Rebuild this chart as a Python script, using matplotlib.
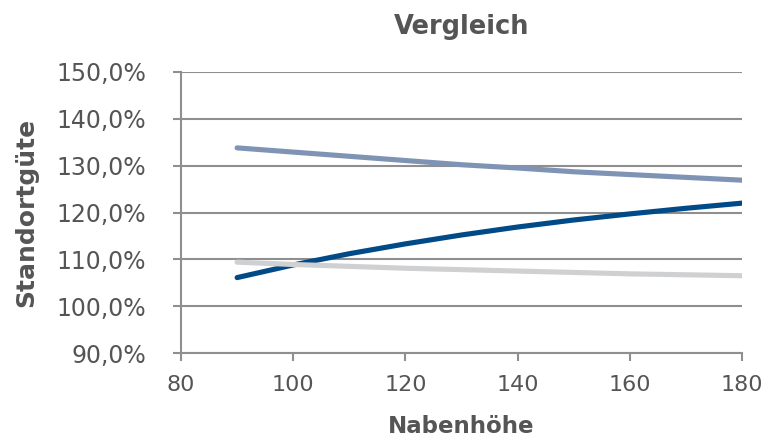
import matplotlib
matplotlib.use("Agg")
import matplotlib.pyplot as plt
from matplotlib.ticker import FuncFormatter, MultipleLocator

# Data
nabenhoehe = [90, 100, 110, 120, 130, 140, 150, 160, 170, 180]
serie_hell = [133.8, 132.9, 132.0, 131.1, 130.2, 129.5, 128.7, 128.1, 127.5, 126.9]
serie_dunkel = [106.1, 108.8, 111.2, 113.3, 115.2, 116.9, 118.4, 119.7, 120.9, 122.0]
serie_grau = [109.4, 108.9, 108.5, 108.1, 107.8, 107.5, 107.2, 106.9, 106.7, 106.5]

text_color = "#555555"
grid_color = "#8f8f8f"

plt.rcParams["font.family"] = ["DejaVu Sans"]

fig = plt.figure(figsize=(7.71, 4.42), dpi=100)
ax = fig.add_axes([181 / 771, 1 - 353 / 442, 561 / 771, 281 / 442])

ax.plot(nabenhoehe, serie_hell, color="#7f93b5", lw=3.7, solid_capstyle="round")
ax.plot(nabenhoehe, serie_dunkel, color="#004a88", lw=3.7, solid_capstyle="round")
ax.plot(nabenhoehe, serie_grau, color="#cfd0d2", lw=3.7, solid_capstyle="round")

ax.set_xlim(80, 180)
ax.set_ylim(90, 150)
ax.xaxis.set_major_locator(MultipleLocator(20))
ax.yaxis.set_major_locator(MultipleLocator(10))
ax.yaxis.set_major_formatter(FuncFormatter(lambda v, p: f"{v:.1f}%".replace(".", ",")))

ax.grid(axis="y", color=grid_color, lw=1.5)
ax.set_axisbelow(True)
for side in ["top", "right"]:
    ax.spines[side].set_visible(False)
for side in ["left", "bottom"]:
    ax.spines[side].set_color(grid_color)
    ax.spines[side].set_linewidth(1.5)

ax.tick_params(axis="both", colors=grid_color, labelcolor=text_color,
               length=6, width=1.5, direction="out")
ax.tick_params(axis="y", pad=19, labelsize=17)
ax.tick_params(axis="x", pad=10, labelsize=16)

ax.set_title("Vergleich", fontsize=18.5, fontweight="bold", color=text_color, pad=27)
ax.set_xlabel("Nabenhöhe", fontsize=16.5, fontweight="bold", color=text_color)
ax.set_ylabel("Standortgüte", fontsize=18, fontweight="bold", color=text_color)
ax.xaxis.set_label_coords(0.5, -(433 - 353) / 281, transform=ax.transAxes)
ax.xaxis.label.set_va("baseline")
ax.yaxis.set_label_coords(-(181 - 14) / 561, 0.5, transform=ax.transAxes)
ax.yaxis.label.set_va("top")

fig.savefig("out.png", dpi=100)
